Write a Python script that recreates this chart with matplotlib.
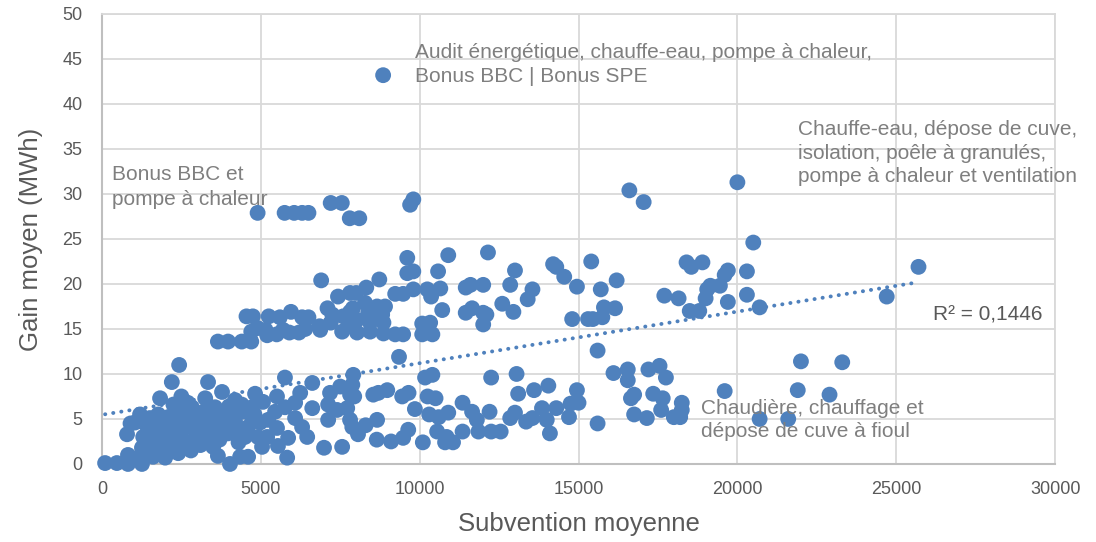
import numpy as np
import matplotlib
matplotlib.use("Agg")
import matplotlib.pyplot as plt

plt.rcParams['font.family'] = ['Liberation Sans', 'DejaVu Sans']

# subvention moyenne (EUR) / gain moyen (MWh), one entry per group of works
low_x = [100, 470, 820, 1260, 820, 1140, 1610, 1990, 1260, 1770, 2050, 2300, 1510, 1890,
         2200, 2520, 790, 1450, 1670, 1890, 2200, 2520, 1040, 1260, 1510, 1770, 2080, 2400,
         1830, 2200, 2430, 2710, 2710, 2830, 2830, 2930, 2250, 2600,
         3150, 3400, 3400, 3340, 3180, 3250, 3560, 3650, 3970, 4280, 4600, 4980, 3780, 4100,
         4410, 4720, 4190, 3780, 4190, 4820, 5070, 3340, 3650, 4030, 4350, 4600, 4500, 4910,
         4720, 5040, 2950,
         1300, 1600, 2000, 2300, 2600, 2900, 3200, 3500, 3700, 2400, 2800, 3100, 3500, 1900,
         1400, 2700, 3000, 3600, 4000, 4300, 2100, 1700, 900, 1200, 2500, 3900, 3300, 4400,
         4800, 5200,
         5230, 5450, 5510, 5760, 6080, 6620, 7120, 7720, 7400, 5760, 6240, 6620, 7180, 7500,
         7910, 7880, 7940, 6080, 6300, 7120, 5510, 7880, 8060, 6460, 5860, 5540, 5830, 6990,
         7560, 7810, 7810,
         8540, 8700, 8980, 9450, 9650, 10170, 10400, 10250, 10500, 9850, 10300, 10600, 10900,
         8660, 8300, 8650, 9100, 9480, 9640, 10100, 10550, 10850, 10800, 11050, 9350,
         11350, 11650, 12200, 11800, 11850, 12250, 12550, 11350, 12250, 13050, 13100, 13600,
         14050, 14950, 15000, 14750, 14700, 14300, 13850, 14000, 14100, 13550, 13350, 13000,
         12850, 15600, 15600, 16100,
         16550, 16550, 17200, 17550, 17750, 16750, 16650, 17350, 17650, 17600, 18250, 18250,
         18200, 18000, 16750, 17150, 19600, 20700, 21600, 22000, 23300, 21900, 22900]
low_y = [0.1, 0.1, 0.0, 0.0, 1.0, 0.7, 0.8, 0.7, 1.8, 1.6, 1.8, 1.9, 2.3, 2.5,
         2.7, 2.7, 3.3, 3.8, 3.2, 3.8, 4.1, 3.8, 4.6, 4.7, 5.1, 5.5, 5.2, 5.5,
         7.3, 9.1, 11.0, 2.3, 4.9, 4.1, 6.3, 2.9, 6.6, 6.0,
         3.6, 3.1, 5.5, 4.1, 4.7, 7.3, 6.3, 3.8, 3.4, 3.8, 4.1, 4.6, 5.2, 5.7,
         5.8, 5.2, 4.7, 8.0, 7.1, 7.8, 6.9, 9.1, 0.9, 0.0, 0.8, 0.8, 3.0, 3.0,
         6.3, 1.9, 5.3,
         3.0, 4.2, 4.6, 3.3, 4.5, 5.0, 5.8, 4.6, 2.7, 1.2, 1.5, 2.1, 1.9, 1.2,
         1.3, 6.8, 3.6, 5.5, 6.4, 2.4, 3.3, 4.3, 4.5, 5.5, 7.5, 4.5, 2.5, 6.6,
         5.5, 3.0,
         4.9, 5.8, 7.5, 6.3, 6.8, 6.2, 6.6, 6.2, 6.0, 9.6, 7.9, 9.0, 7.9, 8.6,
         9.9, 8.8, 7.5, 5.1, 4.1, 4.9, 4.0, 4.1, 3.3, 3.0, 2.9, 2.0, 0.7, 1.8,
         1.9, 4.9, 7.7,
         7.7, 7.9, 8.2, 7.5, 7.9, 9.6, 9.9, 7.5, 7.3, 6.1, 5.5, 5.2, 5.7,
         4.9, 4.3, 2.7, 2.5, 2.9, 3.8, 2.4, 3.6, 3.0, 2.4, 2.4, 11.9,
         6.8, 5.8, 5.8, 4.9, 3.6, 3.6, 3.6, 3.6, 9.6, 10.0, 7.8, 8.2,
         8.7, 8.2, 6.8, 6.7, 5.2, 6.2, 6.2, 4.9, 3.4, 5.1, 4.7, 5.7,
         5.1, 4.5, 12.6, 10.1,
         10.5, 9.3, 10.5, 10.9, 9.6, 7.7, 7.3, 7.8, 7.3, 6.0, 6.8, 6.0,
         5.2, 5.2, 5.5, 5.1, 8.1, 5.0, 5.0, 11.4, 11.3, 8.2, 7.7]

mid_x = [3650, 3970, 4400, 4700, 5200, 5500, 5700, 5900, 6200, 6400, 6870, 4900, 4700, 5150,
         4550, 4750, 5250, 5600, 5950, 6300, 6500, 7100, 7250, 7590, 6850, 7200, 7900, 8030,
         7810, 7560, 6900, 7430, 8000, 7810,
         8320, 8730, 7810, 8280, 8660, 8910, 8030, 8380, 8820, 8860, 8440, 8440, 8860, 9230,
         9480, 10080, 10400, 9230, 9480, 9800, 10240, 10360, 10650, 9610, 9800, 10580, 9610,
         10080, 10330, 10710, 10900, 12150, 11450, 11600, 12000, 11450, 11650, 12000, 12100,
         12000,
         12850, 13000, 13550, 13400, 12600, 12950, 14200, 14300, 14550, 14950, 15400, 15700,
         14800, 15300, 15450, 15750, 15800, 16150, 16200,
         18400, 18550, 18900, 19700, 19600, 20300, 19450, 19150, 19050, 19000, 19700, 20300,
         20700, 18500, 18800, 18150, 17700, 20500, 24700, 25700]
mid_y = [13.6, 13.6, 13.6, 13.6, 14.3, 14.4, 14.9, 14.6, 14.6, 15.0, 14.9, 15.1, 14.7, 14.9,
         16.4, 16.4, 16.4, 16.3, 16.9, 16.3, 16.3, 17.3, 16.6, 16.4, 15.3, 15.7, 17.3, 14.6,
         15.3, 14.7, 20.4, 18.6, 19.0, 19.0,
         19.6, 20.5, 16.9, 17.9, 17.5, 17.5, 16.0, 16.8, 16.6, 15.7, 15.7, 14.7, 14.5, 14.4,
         14.4, 14.4, 14.4, 18.9, 18.9, 19.4, 19.4, 18.6, 19.5, 21.2, 21.4, 21.4, 22.9,
         15.6, 15.7, 17.1, 23.2, 23.5, 19.6, 19.9, 19.9, 16.8, 17.3, 16.8, 16.6,
         15.5,
         19.9, 21.5, 19.4, 18.3, 17.8, 16.9, 22.2, 21.9, 20.8, 19.7, 22.5, 19.4,
         16.1, 16.1, 16.1, 16.3, 17.4, 17.3, 20.4,
         22.4, 21.9, 22.4, 21.5, 21.0, 21.4, 19.8, 19.8, 19.4, 18.4, 18.0, 18.8,
         17.4, 17.0, 17.0, 18.4, 18.7, 24.6, 18.6, 21.9]

high_x = [4900, 5750, 6050, 6300, 6500, 7200, 7550, 7800, 8100, 9700, 9800, 16600, 17050,
          20000, 8850]
high_y = [27.9, 27.9, 27.9, 27.9, 27.9, 29.0, 29.0, 27.3, 27.3, 28.8, 29.4, 30.4, 29.1,
          31.3, 43.2]

x = np.array(low_x + mid_x + high_x, dtype=float)
y = np.array(low_y + mid_y + high_y, dtype=float)

blue = '#4F81BD'
grey_txt = '#595959'
note_txt = '#7F7F7F'

fig = plt.figure(figsize=(10.96, 5.42), dpi=100)
ax = fig.add_axes([0.093, 0.144, 0.8697, 0.8302])

ax.scatter(x, y, s=130, color=blue, edgecolors='none', zorder=3, clip_on=False)

# linear trend (least squares), drawn over the data range
a, b = np.polyfit(x, y, 1)
tx = np.array([x.min(), x.max()])
ax.plot(tx, a * tx + b, color=blue, lw=2.8, linestyle=(0, (0.05, 2.05)),
        dash_capstyle='round', zorder=4)

ax.set_xlim(0, 30000)
ax.set_ylim(0, 50)
ax.set_xticks(np.arange(0, 30001, 5000))
ax.set_yticks(np.arange(0, 51, 5))
ax.grid(True, color='#D9D9D9', lw=1.3, zorder=0)
ax.set_axisbelow(True)
for side in ['top', 'right']:
    ax.spines[side].set_color('#D9D9D9')
    ax.spines[side].set_linewidth(1.3)
for side in ['left', 'bottom']:
    ax.spines[side].set_color('#BFBFBF')
    ax.spines[side].set_linewidth(1.5)
ax.tick_params(length=0, labelsize=13, labelcolor=grey_txt)
ax.tick_params(axis='y', pad=14)
ax.tick_params(axis='x', pad=12)

ax.set_xlabel('Subvention moyenne', fontsize=18.5, color=grey_txt, labelpad=10)
ax.set_ylabel('Gain moyen (MWh)', fontsize=18.5, color=grey_txt, labelpad=14)

ax.text(315, 30.8, 'Bonus BBC et\npompe à chaleur', fontsize=15, color=note_txt,
        va='center', ha='left', linespacing=1.4)
ax.text(9860, 44.4, 'Audit énergétique, chauffe-eau, pompe à chaleur,\nBonus BBC | Bonus SPE',
        fontsize=15, color=note_txt, va='center', ha='left', linespacing=1.35)
ax.text(21900, 34.5, 'Chauffe-eau, dépose de cuve,\nisolation, poêle à granulés,\n'
        'pompe à chaleur et ventilation', fontsize=15, color=note_txt,
        va='center', ha='left', linespacing=1.3)
ax.text(18840, 4.9, 'Chaudière, chauffage et\ndépose de cuve à fioul', fontsize=15,
        color=note_txt, va='center', ha='left', zorder=5, linespacing=1.3)
ax.text(26150, 16.5, 'R² = 0,1446', fontsize=15, color=grey_txt, va='center', ha='left')

fig.savefig('out.png', dpi=100)
